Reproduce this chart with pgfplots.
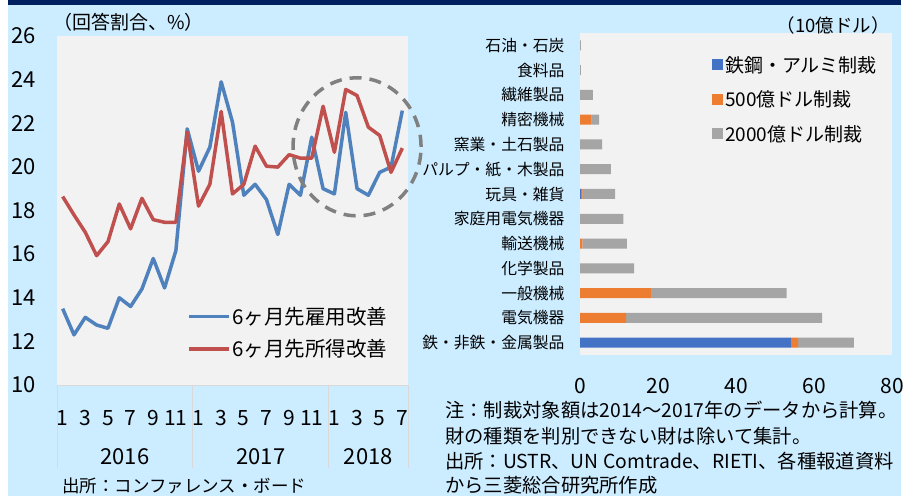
\documentclass[border=0pt]{standalone}
\usepackage{fontspec}
\setmainfont{Noto Sans CJK JP}
\usepackage{pgfplots}
\pgfplotsset{compat=1.18}
\definecolor{bgblue}{RGB}{204,236,255}
\definecolor{navy}{RGB}{0,32,96}
\definecolor{plotbg}{RGB}{242,242,242}
\definecolor{lblue}{RGB}{79,129,189}
\definecolor{lred}{RGB}{192,80,77}
\definecolor{bblue}{RGB}{68,114,196}
\definecolor{borange}{RGB}{237,125,49}
\definecolor{bgray}{RGB}{165,165,165}
\definecolor{circgray}{RGB}{128,128,128}
\definecolor{sepgray}{RGB}{217,217,217}
\newcommand{\fsz}[1]{\fontsize{#1pt}{#1pt}\selectfont}
\begin{document}
\begin{tikzpicture}
\clip (0,0) rectangle (906pt,496pt);
\fill[white] (0,0) rectangle (906pt,496pt);
\fill[bgblue] (8pt,0) rectangle (901pt,491pt);
\fill[navy] (8pt,491pt) rectangle (901pt,496pt);

\begin{axis}[
  at={(57pt,111pt)}, anchor=south west,
  scale only axis, width=351pt, height=349pt,
  xmin=-0.5, xmax=30.5, ymin=10, ymax=26,
  ytick={10,12,...,26},
  xtick={0,2,...,30},
  xticklabels={1,3,5,7,9,11,1,3,5,7,9,11,1,3,5,7},
  major tick length=0,
  axis line style={draw=none},
  axis background/.style={fill=plotbg},
  /pgf/number format/assume math mode=true,
  yticklabel style={font=\fsz{22}, xshift=-18pt},
  xticklabel style={font=\fsz{21}, yshift=-22pt},
  clip=false,
  legend style={at={(0.37,0.23)}, anchor=north west, draw=none, fill=none,
    font=\fsz{20.5}, row sep=10pt, inner sep=0pt},
  legend cell align=left,
  legend image code/.code={\draw[#1] (0pt,0pt) -- (40pt,0pt);},
]
\addplot[lblue, line width=3.5pt, line join=round] coordinates {
(0,13.5) (1,12.3) (2,13.1) (3,12.75) (4,12.6) (5,14.0) (6,13.6) (7,14.4) (8,15.8) (9,14.45) (10,16.16) (11,21.74)
(12,19.8) (13,20.9) (14,23.9) (15,22.05) (16,18.7) (17,19.2) (18,18.5) (19,16.9) (20,19.2) (21,18.7) (22,21.36) (23,19.0)
(24,18.76) (25,22.5) (26,19.0) (27,18.7) (28,19.75) (29,19.99) (30,22.58)};
\addlegendentry{6ヶ月先雇用改善}
\addplot[lred, line width=3.5pt, line join=round] coordinates {
(0,18.64) (1,17.8) (2,17.0) (3,15.93) (4,16.57) (5,18.3) (6,17.16) (7,18.56) (8,17.58) (9,17.46) (10,17.46) (11,21.6)
(12,18.2) (13,19.2) (14,22.54) (15,18.76) (16,19.2) (17,20.95) (18,20.03) (19,19.99) (20,20.56) (21,20.4) (22,20.4) (23,22.78)
(24,20.67) (25,23.55) (26,23.27) (27,21.82) (28,21.44) (29,19.75) (30,20.86)};
\addlegendentry{6ヶ月先所得改善}
\draw[circgray, line width=3.5pt, dash pattern=on 12pt off 8pt] (axis cs:26,20.92) ellipse [x radius=64pt, y radius=69pt];
\draw[sepgray, line width=0.8pt] (axis cs:-0.5,10) -- (axis cs:30.5,10);
\draw[sepgray, line width=0.8pt] (axis cs:-0.5,10) -- ++(0pt,-83pt);
\draw[sepgray, line width=0.8pt] (axis cs:11.5,10) -- ++(0pt,-83pt);
\draw[sepgray, line width=0.8pt] (axis cs:23.5,10) -- ++(0pt,-83pt);
\draw[sepgray, line width=0.8pt] (axis cs:30.5,10) -- ++(0pt,-83pt);
\node[font=\fsz{22}] at (axis cs:5.5,10) [yshift=-72pt] {2016};
\node[font=\fsz{22}] at (axis cs:17.5,10) [yshift=-72pt] {2017};
\node[font=\fsz{22}] at (axis cs:27,10) [yshift=-72pt] {2018};
\end{axis}

\begin{axis}[
  at={(580pt,141pt)}, anchor=south west,
  scale only axis, width=312pt, height=322pt,
  xbar stacked, bar width=10pt,
  xmin=0, xmax=80, ymin=-0.5, ymax=12.5,
  xtick={0,20,...,80},
  ytick={0,...,12},
  yticklabels={鉄・非鉄・金属製品,電気機器,一般機械,化学製品,輸送機械,家庭用電気機器,玩具・雑貨,パルプ・紙・木製品,窯業・土石製品,精密機械,繊維製品,食料品,石油・石炭},
  major tick length=0,
  axis line style={draw=none},
  axis background/.style={fill=plotbg},
  /pgf/number format/assume math mode=true,
  xticklabel style={font=\fsz{21}, yshift=-20pt},
  yticklabel style={font=\fsz{15.8}, xshift=-12pt},
  clip=false,
  legend style={at={(0.423,0.935)}, anchor=north west, draw=none, fill=none,
    font=\fsz{19}, row sep=13pt, inner sep=0pt},
  legend cell align=left,
  legend image code/.code={\fill[#1] (0pt,-5.5pt) rectangle (11pt,5.5pt);},
]
\addplot[fill=bblue, draw=none] coordinates {(54.1,0) (0,1) (0,2) (0,3) (0,4) (0,5) (0.4,6) (0,7) (0,8) (0,9) (0,10) (0,11) (0,12)};
\addlegendentry{鉄鋼・アルミ制裁}
\addplot[fill=borange, draw=none] coordinates {(1.8,0) (11.8,1) (18.2,2) (0,3) (0.6,4) (0,5) (0.3,6) (0,7) (0,8) (3.0,9) (0,10) (0,11) (0,12)};
\addlegendentry{500億ドル制裁}
\addplot[fill=bgray, draw=none] coordinates {(14.3,0) (50.3,1) (34.8,2) (13.9,3) (11.4,4) (11.1,5) (8.3,6) (7.9,7) (5.7,8) (1.9,9) (3.3,10) (0.2,11) (0.2,12)};
\addlegendentry{2000億ドル制裁}
\end{axis}

\node[anchor=west, font=\fsz{19}, inner sep=0pt] at (53pt,473.5pt) {（回答割合、\%）};
\node[anchor=east, font=\fsz{18.5}, inner sep=0pt] at (890pt,471pt) {（10億ドル）};
\node[anchor=west, font=\fsz{17.5}, inner sep=0pt] at (62pt,10pt) {出所：コンファレンス・ボード};
\node[anchor=west, font=\fsz{19.3}, inner sep=0pt] at (445pt,86pt) {注：制裁対象額は2014〜2017年のデータから計算。};
\node[anchor=west, font=\fsz{19.3}, inner sep=0pt] at (445pt,60pt) {財の種類を判別できない財は除いて集計。};
\node[anchor=west, font=\fsz{19.3}, inner sep=0pt] at (445pt,35pt) {出所：USTR、UN Comtrade、RIETI、各種報道資料};
\node[anchor=west, font=\fsz{19.3}, inner sep=0pt] at (445pt,11pt) {から三菱総合研究所作成};
\end{tikzpicture}
\end{document}
